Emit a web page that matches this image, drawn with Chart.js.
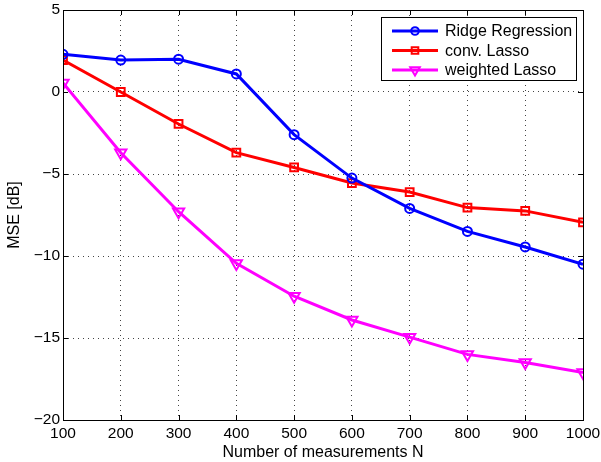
<!DOCTYPE html>
<html>
<head>
<meta charset="utf-8">
<script src="https://cdn.jsdelivr.net/npm/chart.js@4/dist/chart.umd.min.js"></script>
<style>
  html, body { margin: 0; padding: 0; background: #fff; }
  #wrap { width: 601px; height: 462px; }
</style>
</head>
<body>
<div id="wrap"><canvas id="chart"></canvas></div>
<script>
'use strict';

// ── Data ─────────────────────────────────────────────────────────────────────
const nValues     = [100, 200, 300, 400, 500, 600, 700, 800, 900, 1000];
const ridgeMse    = [2.3, 1.95, 2.0, 1.1, -2.6, -5.25, -7.1, -8.5, -9.45, -10.5];
const convLasso   = [1.95, 0.0, -1.95, -3.7, -4.6, -5.55, -6.1, -7.05, -7.25, -7.95];
const weightLasso = [0.55, -3.7, -7.3, -10.45, -12.45, -13.9, -14.95, -16.0, -16.5, -17.1];
const seriesNames = ['Ridge Regression', 'conv. Lasso', 'weighted Lasso'];

const FAMILY    = '"Liberation Sans", Arial, Helvetica, sans-serif';
const TICK_FONT = { family: FAMILY, size: 15.5 };
const TEXT_FONT = { family: FAMILY, size: 16 };

const pts = vals => nValues.map((x, i) => ({ x, y: vals[i] }));

function series(label, vals, color, style, radius, rotation = 0) {
  return {
    label, data: pts(vals),
    borderColor: color, backgroundColor: color, borderWidth: 3,
    pointStyle: style, pointRadius: radius, pointRotation: rotation,
    pointBorderColor: color, pointBackgroundColor: 'rgba(0,0,0,0)', pointBorderWidth: 2,
    tension: 0,
  };
}

// ── Frame with inward ticks, and legend inside the plot ──────────────────────
const framePlugin = {
  id: 'frame',
  afterDraw(chart) {
    const { ctx, chartArea: a, scales: { x, y } } = chart;
    ctx.save();
    ctx.strokeStyle = '#000';
    ctx.lineWidth = 1;
    ctx.strokeRect(a.left + 0.5, a.top + 0.5, a.right - a.left, a.bottom - a.top);
    ctx.beginPath();
    x.ticks.forEach(t => {
      const px = Math.round(x.getPixelForValue(t.value)) + 0.5;
      ctx.moveTo(px, a.bottom); ctx.lineTo(px, a.bottom - 5);
      ctx.moveTo(px, a.top);    ctx.lineTo(px, a.top + 5);
    });
    y.ticks.forEach(t => {
      const py = Math.round(y.getPixelForValue(t.value)) + 0.5;
      ctx.moveTo(a.left, py);  ctx.lineTo(a.left + 5, py);
      ctx.moveTo(a.right, py); ctx.lineTo(a.right - 5, py);
    });
    ctx.stroke();

    // legend box
    const bx = 381.5, by = 17.5, bw = 195, bh = 63;
    ctx.fillStyle = '#fff';
    ctx.fillRect(bx, by, bw, bh);
    ctx.strokeRect(bx, by, bw, bh);
    ctx.font = `${TEXT_FONT.size}px ${TEXT_FONT.family}`;
    ctx.textBaseline = 'middle';
    chart.data.datasets.forEach((ds, i) => {
      const cy = 31 + i * 19.5;
      ctx.strokeStyle = ds.borderColor;
      ctx.lineWidth = 3;
      ctx.beginPath(); ctx.moveTo(392, cy); ctx.lineTo(438, cy); ctx.stroke();
      ctx.lineWidth = 2;
      ctx.fillStyle = 'rgba(0,0,0,0)';
      Chart.helpers.drawPoint(ctx, {
        pointStyle: ds.pointStyle, radius: ds.pointRadius * 0.85, rotation: ds.pointRotation,
        borderWidth: 2,
      }, 415, cy);
      ctx.fillStyle = '#000';
      ctx.fillText(ds.label, 445, cy + 1);
    });
    ctx.restore();
  },
};

// ── Chart ─────────────────────────────────────────────────────────────────────
const minus = v => (v < 0 ? '\u2212' + Math.abs(v) : String(v));

new Chart(document.getElementById('chart'), {
  type: 'line',
  data: {
    datasets: [
      series(seriesNames[0], ridgeMse,    '#0000ff', 'circle',   4.5),
      series(seriesNames[1], convLasso,   '#ff0000', 'rect',     5.5),
      series(seriesNames[2], weightLasso, '#ff00ff', 'triangle', 6.5, 180),
    ],
  },
  options: {
    responsive: true,
    maintainAspectRatio: false,
    animation: false,
    layout: { padding: { top: 10, right: 18, left: 0, bottom: 0 } },
    plugins: { legend: { display: false }, tooltip: { enabled: false } },
    scales: {
      x: {
        type: 'linear', min: 100, max: 1000,
        ticks: { stepSize: 100, color: '#000', font: TICK_FONT, padding: 4, maxRotation: 0,
                 callback: v => String(v) },
        grid: { color: '#444', drawTicks: false },
        border: { display: false, dash: [1, 4] },
        title: { display: true, text: 'Number of measurements N', color: '#000', font: TEXT_FONT,
                 padding: { top: 0, bottom: 0 } },
        afterFit: s => { s.height = 42; s.paddingLeft = 0; s.paddingRight = 0; },
      },
      y: {
        min: -20, max: 5,
        ticks: { stepSize: 5, color: '#000', font: TICK_FONT, padding: 3, callback: minus },
        grid: { color: '#444', drawTicks: false },
        border: { display: false, dash: [1, 4] },
        title: { display: true, text: 'MSE [dB]', color: '#000', font: TEXT_FONT,
                 padding: { top: 5, bottom: 0 } },
        afterFit: s => { s.width = 63; s.paddingTop = 0; s.paddingBottom = 0; },
      },
    },
  },
  plugins: [framePlugin],
});
</script>
</body>
</html>
